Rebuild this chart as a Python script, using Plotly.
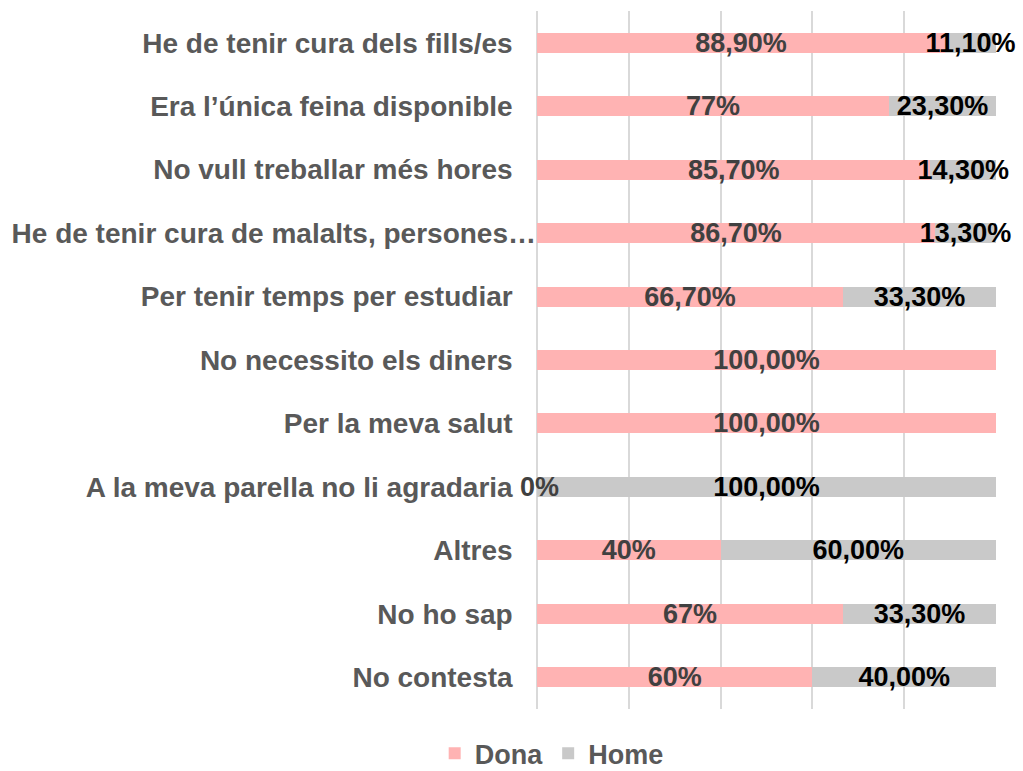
import plotly.graph_objects as go

categories = [
    "He de tenir cura dels fills/es",
    "Era l’única feina disponible",
    "No vull treballar més hores",
    "He de tenir cura de malalts, persones…",
    "Per tenir temps per estudiar",
    "No necessito els diners",
    "Per la meva salut",
    "A la meva parella no li agradaria",
    "Altres",
    "No ho sap",
    "No contesta",
]
dona_values = [0.889, 0.767, 0.857, 0.867, 0.667, 1.0, 1.0, 0.0, 0.40, 0.667, 0.60]
home_values = [0.111, 0.233, 0.143, 0.133, 0.333, 0.0, 0.0, 1.0, 0.60, 0.333, 0.40]
dona_labels = ["88,90%", "77%", "85,70%", "86,70%", "66,70%", "100,00%", "100,00%", "0%", "40%", "67%", "60%"]
home_labels = ["11,10%", "23,30%", "14,30%", "13,30%", "33,30%", "", "", "100,00%", "60,00%", "33,30%", "40,00%"]

PINK = "#FFB3B3"
GREY = "#C9C9C9"
FONT = "Liberation Sans, Arial, sans-serif"

# pad normal labels with non-breaking spaces; the truncated long one reaches the axis
tick_text = [c if c.endswith("…") else c + "\u00a0\u00a0\u00a0" for c in categories]

fig = go.Figure()
fig.add_trace(go.Bar(
    y=categories, x=dona_values, name="Dona", orientation="h",
    marker=dict(color=PINK, line=dict(width=0)),
    text=[t if v > 0 else "" for t, v in zip(dona_labels, dona_values)],
    textposition="inside", insidetextanchor="middle", textangle=0,
    constraintext="none", cliponaxis=False,
    insidetextfont=dict(family=FONT, size=27, color="#404040", weight="bold"),
    hoverinfo="skip",
))
fig.add_trace(go.Bar(
    y=categories, x=home_values, name="Home", orientation="h",
    marker=dict(color=GREY, line=dict(width=0)),
    text=[t if v > 0 else "" for t, v in zip(home_labels, home_values)],
    textposition="inside", insidetextanchor="middle", textangle=0,
    constraintext="none", cliponaxis=False,
    insidetextfont=dict(family=FONT, size=27, color="#000000", weight="bold"),
    hoverinfo="skip",
))

# labels of zero-width segments (centred on the zero position)
annotations = []
for cat, v, t in zip(categories, dona_values, dona_labels):
    if v == 0:
        annotations.append(dict(x=v, y=cat, xref="x", yref="y", text=t, showarrow=False,
                                xanchor="center", yanchor="middle", xshift=2,
                                font=dict(family=FONT, size=27, color="#404040", weight="bold")))

fig.update_layout(
    width=1023, height=771,
    barmode="stack", bargap=0.685,
    paper_bgcolor="white", plot_bgcolor="white",
    margin=dict(l=537, r=27, t=11, b=62, autoexpand=False),
    font=dict(family=FONT, size=28, color="#595959", weight="bold"),
    xaxis=dict(range=[0, 1], tickvals=[0, 0.2, 0.4, 0.6, 0.8, 1.0], showticklabels=False,
               showgrid=True, gridcolor="#D9D9D9", gridwidth=1.5,
               zeroline=True, zerolinecolor="#D9D9D9", zerolinewidth=1.5, showline=False),
    yaxis=dict(autorange="reversed", tickmode="array", tickvals=categories, ticktext=tick_text,
               ticks="", showgrid=False, zeroline=False, showline=False, automargin=False,
               tickfont=dict(family=FONT, size=28, color="#595959", weight="bold")),
    legend=dict(orientation="h", x=0.032, xanchor="center", y=-0.064, yanchor="middle",
                font=dict(family=FONT, size=27, color="#595959", weight="bold"),
                itemwidth=30, traceorder="normal"),
    annotations=annotations,
)

fig.write_html("out.html", config={"displayModeBar": False},
               post_script="document.body.style.margin='0';document.body.style.padding='0';")
